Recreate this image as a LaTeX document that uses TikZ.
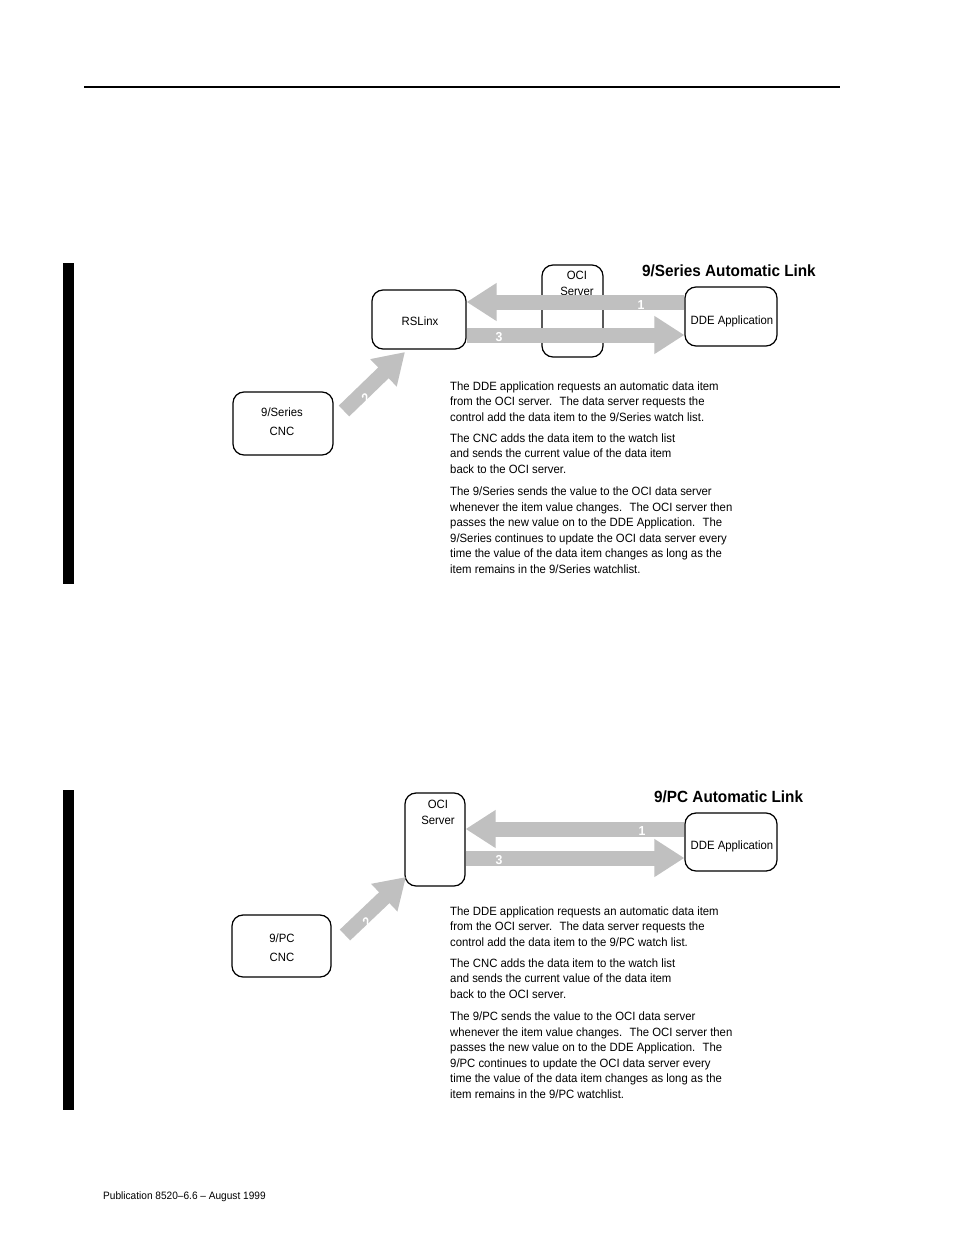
\documentclass[tikz,border=0pt]{standalone}
\usepackage{fontspec}
\setmainfont{Liberation Sans}[FakeStretch=0.945]
\usetikzlibrary{arrows.meta,calc}
\definecolor{arrowgray}{RGB}{192,192,192}
\begin{document}
\begin{tikzpicture}[x=1pt,y=-1pt,
  box/.style={draw, line width=1.25pt, rounded corners=11pt, inner sep=0pt},
  boxtext/.style={inner sep=0pt, align=center, font=\fontsize{12}{19}\selectfont},
  fatarrow/.style={draw=arrowgray, line width=15pt, -{Triangle[length=30pt,width=36pt]}},
  num/.style={text=white, inner sep=0pt, font=\fontsize{13}{13}\selectfont\bfseries},
  para/.style={anchor=north west, inner sep=0pt, align=left, font=\fontsize{12}{15.5}\selectfont},
  title/.style={anchor=base west, inner sep=0pt, font=\fontsize{16.2}{16.2}\selectfont\bfseries},
  bar/.style={fill=black, draw=none}]
\useasboundingbox[fill=white] (0,0) rectangle (954,1235);

% header rule and side bars
\coordinate (ruleL) at (84,87);
\coordinate (ruleR) at (840,87);
\draw[line width=2pt] (ruleL) -- (ruleR);
\fill[bar] (63,263) rectangle (74,584);
\fill[bar] (63,790) rectangle (74,1110);

% ================= top diagram =================
\node[box, minimum width=61pt, minimum height=92pt] (oci1) at (572.5,311) {};
\node[boxtext, font=\fontsize{12}{16}\selectfont, anchor=north] (oci1t) at (577,271) {OCI\\Server};

\node[box, minimum width=94pt, minimum height=59pt] (rslinx) at (419,319.5) {};
\node[box, minimum width=92pt, minimum height=59pt] (dde1) at (731,316.5) {};
\node[box, minimum width=100pt, minimum height=63pt] (cnc1) at (283,423.5) {};

\coordinate (y1a) at (0,302);
\coordinate (y1b) at (0,335);
\coordinate (tail2a) at (344,411);
\coordinate (tip2a) at (405,352);

\draw[fatarrow] (dde1.west |- y1a) -- (rslinx.east |- y1a);
\draw[fatarrow] (rslinx.east |- y1b) -- (dde1.west |- y1b);
\draw[fatarrow] (tail2a) -- (tip2a);

\node[num] (n1a) at (641,305) {1};
\node[num] (n3a) at (499,337) {3};
\node[num, rotate=45] (n2a) at (366,398) {2};

\node[boxtext] (rslinxt) at (420,321) {RSLinx};
\node[boxtext] (dde1t) at (732,321) {DDE Application};
\node[boxtext] (cnc1t) at (282,421.5) {9/Series\\CNC};

\node[title] (title1) at (642,276.5) {9/Series Automatic Link};

\node[para] (para1) at (450,381.5) {The DDE application requests an automatic data item\\
from the OCI server.~ The data server requests the\\
control add the data item to the 9/Series watch list.\\[5.5pt]
The CNC adds the data item to the watch list\\
and sends the current value of the data item\\
back to the OCI server.\\[7pt]
The 9/Series sends the value to the OCI data server\\
whenever the item value changes.~ The OCI server then\\
passes the new value on to the DDE Application.~ The\\
9/Series continues to update the OCI data server every\\
time the value of the data item changes as long as the\\
item remains in the 9/Series watchlist.};

% ================= bottom diagram =================
\node[box, minimum width=60pt, minimum height=93pt] (oci2) at (435,839.5) {};
\node[box, minimum width=92pt, minimum height=58pt] (dde2) at (731,842) {};
\node[box, minimum width=99pt, minimum height=62pt] (cnc2) at (281.5,946) {};

\coordinate (y2a) at (0,829);
\coordinate (y2b) at (0,858);
\coordinate (tail2b) at (345,935);
\coordinate (tip2b) at (406,877);

\draw[fatarrow] (dde2.west |- y2a) -- (oci2.east |- y2a);
\draw[fatarrow] (oci2.east |- y2b) -- (dde2.west |- y2b);
\draw[fatarrow] (tail2b) -- (tip2b);

\node[num] (n1b) at (642,831) {1};
\node[num] (n3b) at (499,860) {3};
\node[num, rotate=45] (n2b) at (367,922) {2};

\node[boxtext, font=\fontsize{12}{15.5}\selectfont, anchor=north] (oci2t) at (438,800) {OCI\\Server};
\node[boxtext] (dde2t) at (732,846) {DDE Application};
\node[boxtext] (cnc2t) at (282,947.5) {9/PC\\CNC};

\node[title] (title2) at (654,802.5) {9/PC Automatic Link};

\node[para] (para2) at (450,906.5) {The DDE application requests an automatic data item\\
from the OCI server.~ The data server requests the\\
control add the data item to the 9/PC watch list.\\[5.5pt]
The CNC adds the data item to the watch list\\
and sends the current value of the data item\\
back to the OCI server.\\[7pt]
The 9/PC sends the value to the OCI data server\\
whenever the item value changes.~ The OCI server then\\
passes the new value on to the DDE Application.~ The\\
9/PC continues to update the OCI data server every\\
time the value of the data item changes as long as the\\
item remains in the 9/PC watchlist.};

% footer
\node[anchor=base west, inner sep=0pt, font=\fontsize{10.7}{10.7}\selectfont] (footer) at (103,1199.5) {Publication 8520–6.6 – August 1999};
\end{tikzpicture}
\end{document}
